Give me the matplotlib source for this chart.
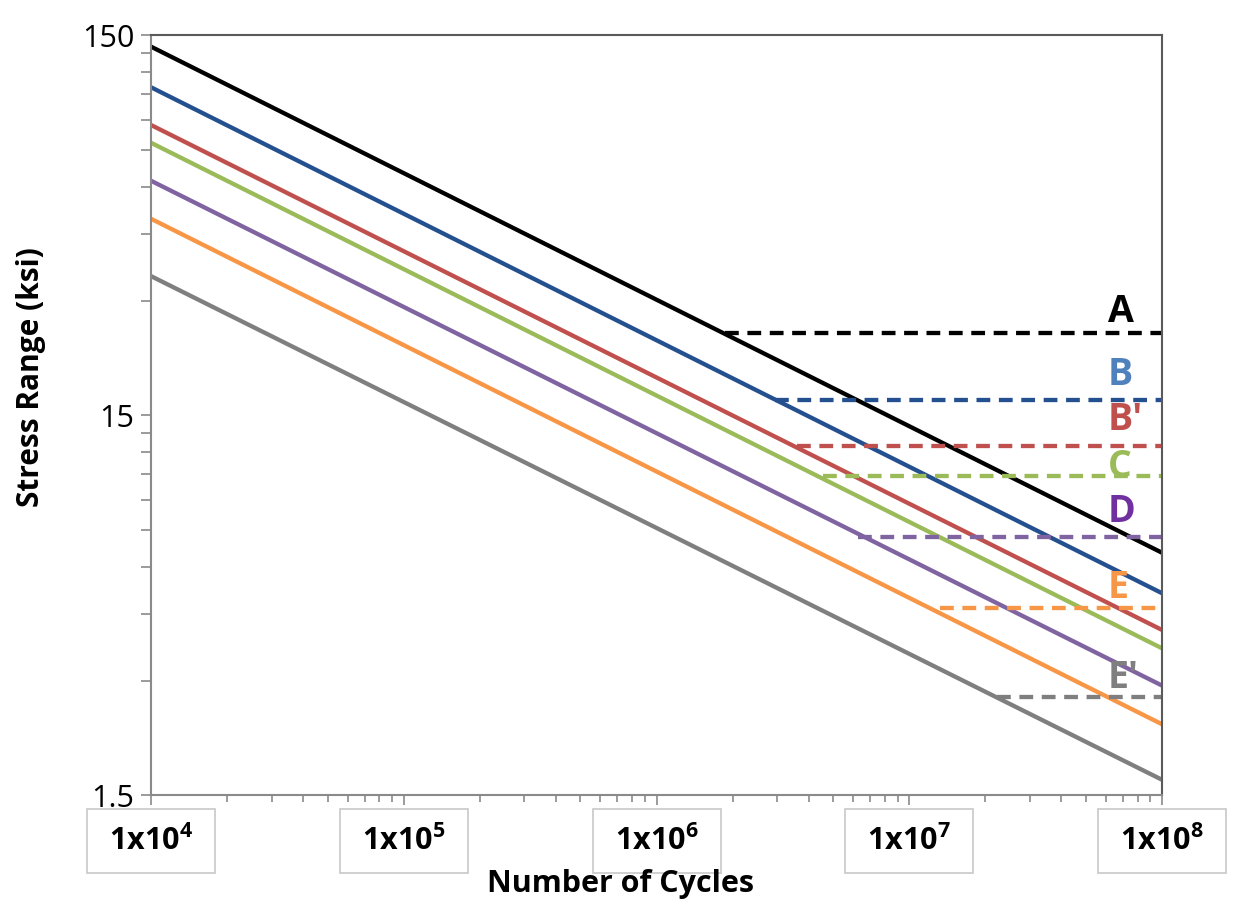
import matplotlib
matplotlib.use('Agg')
import matplotlib.pyplot as plt
import matplotlib.ticker as ticker
from matplotlib.patches import Rectangle

plt.rcParams['font.family'] = ['Open Sans', 'DejaVu Sans']
plt.rcParams['mathtext.fontset'] = 'custom'
plt.rcParams['mathtext.rm'] = 'Open Sans:bold'
plt.rcParams['mathtext.default'] = 'rm'

# detail categories
categories = ['A', 'B', "B'", 'C', 'D', 'E', "E'"]
n_range = [1e4, 1e8]
# stress range (ksi) at 1e4 and 1e8 cycles
s_start = [140.2, 109.6, 87.2, 78.3, 62.2, 49.4, 34.9]
s_end = [6.53, 5.11, 4.09, 3.66, 2.92, 2.31, 1.65]
# constant amplitude fatigue threshold and where its dashed line starts
caft = [24.7, 16.5, 12.47, 10.4, 7.2, 4.67, 2.72]
caft_start = [1.87e6, 2.94e6, 3.59e6, 4.56e6, 6.27e6, 1.32e7, 2.22e7]

x_major = [1e4, 1e5, 1e6, 1e7, 1e8]
x_labels = ['$1x10^{4}$', '$1x10^{5}$', '$1x10^{6}$', '$1x10^{7}$', '$1x10^{8}$']
y_major = [1.5, 15, 150]
y_labels = ['1.5', '15', '150']

line_colors = ['black', '#25508f', '#c0504d', '#9bbb59', '#8064a2', '#f79646', '#7f7f7f']
text_colors = ['black', '#4f81bd', '#c0504d', '#9bbb59', '#7030a0', '#f79646', '#7f7f7f']
label_dy = [15, 18, 19, 6.5, 18, 14.5, 14]  # points above the dashed line

fig = plt.figure(figsize=(12.35, 9.01), dpi=100)
ax = fig.add_axes([0.1223, 0.1171, 0.8186, 0.8435])

for i, cat in enumerate(categories):
    ax.plot(n_range, [s_start[i], s_end[i]], color=line_colors[i], lw=3.1,
            solid_capstyle='butt')
    ax.plot([caft_start[i], n_range[1]], [caft[i], caft[i]], color=line_colors[i],
            lw=3.1, dashes=(3.2, 2.0), dash_capstyle='butt')
    ax.annotate(cat, xy=(6.1e7, caft[i]), xytext=(0, label_dy[i]),
                textcoords='offset points', ha='left', va='center',
                fontsize=27, fontweight='bold', color=text_colors[i])

ax.set_xscale('log')
ax.set_yscale('log')
ax.set_xlim(1e4, 1e8)
ax.set_ylim(1.5, 150)

ax.yaxis.set_major_locator(ticker.FixedLocator(y_major))
ax.yaxis.set_major_formatter(ticker.FixedFormatter(y_labels))
ax.yaxis.set_minor_locator(ticker.LogLocator(base=10, subs=[3, 4.5, 6, 7.5, 9, 10.5, 12, 13.5]))
ax.yaxis.set_minor_formatter(ticker.NullFormatter())
ax.xaxis.set_major_locator(ticker.FixedLocator(x_major))
ax.xaxis.set_minor_locator(ticker.LogLocator(base=10, subs=range(2, 10)))
ax.xaxis.set_minor_formatter(ticker.NullFormatter())

ax.tick_params(axis='y', which='both', direction='out', length=7, width=1.2,
               color='#8a8a8a', labelsize=22, pad=5)
ax.tick_params(axis='x', which='major', direction='out', length=7.5, width=1.2,
               color='#8a8a8a', labelbottom=False)
ax.tick_params(axis='x', which='minor', direction='out', length=5, width=1.2,
               color='#8a8a8a')

for side in ['left', 'bottom']:
    ax.spines[side].set_color('#8a8a8a')
    ax.spines[side].set_linewidth(1.5)
for side in ['top', 'right']:
    ax.spines[side].set_color('#5a5a5a')
    ax.spines[side].set_linewidth(1.5)

# boxed tick labels under the axis, as in the spreadsheet chart
W, H = fig.get_size_inches() * fig.dpi
for xv, lab in zip(x_major, x_labels):
    xd = ax.transData.transform((xv, 1.5))[0]
    fig.patches.append(Rectangle(((xd - 64) / W, 1 - 873 / H), 128 / W, 64 / H,
                                 transform=fig.transFigure, fc='white',
                                 ec='#c8c8c8', lw=1.2))
    fig.text(xd / W, 1 - 841 / H, lab, ha='center', va='center', fontsize=22)

fig.text(621 / W, 1 - 884 / H, 'Number of Cycles', ha='center', va='center',
         fontsize=22, fontweight='bold')
fig.text(31 / W, 1 - 377 / H, 'Stress Range (ksi)', ha='center', va='center',
         rotation=90, fontsize=21.5, fontweight='bold')

fig.savefig('out.png', dpi=100)
